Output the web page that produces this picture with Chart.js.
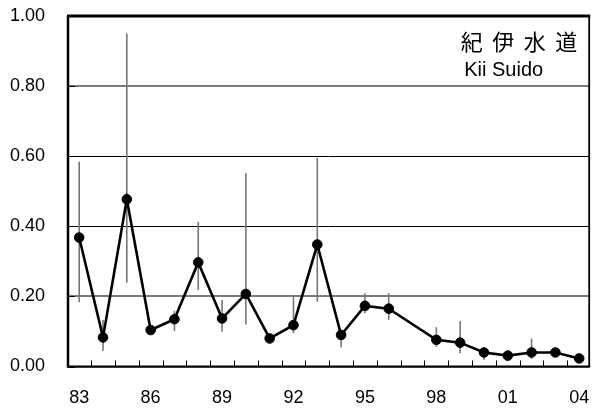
<!DOCTYPE html>
<html>
<head>
<meta charset="utf-8">
<title>紀伊水道</title>
<script src="https://cdn.jsdelivr.net/npm/chart.js@4.4.1/dist/chart.umd.min.js"></script>
<style>
  html, body { margin: 0; padding: 0; background: #fff; }
  #wrap { width: 595px; height: 411px; position: relative; }
</style>
</head>
<body>
<div id="wrap"><canvas id="chart"></canvas></div>
<script>
/* ============ DATA ============ */
const years = [1983, 1984, 1985, 1986, 1987, 1988, 1989, 1990, 1991, 1992, 1993,
  1994, 1995, 1996, 1997, 1998, 1999, 2000, 2001, 2002, 2003, 2004];
const means = [0.368, 0.083, 0.477, 0.104, 0.135, 0.297, 0.137, 0.207, 0.080, 0.118, 0.348,
  0.090, 0.173, 0.165, null, 0.076, 0.068, 0.040, 0.031, 0.040, 0.040, 0.023];
const lower = [0.183, 0.044, 0.239, 0.095, 0.101, 0.218, 0.099, 0.120, 0.072, 0.095, 0.185,
  0.055, 0.152, 0.133, null, 0.056, 0.038, 0.019, 0.020, 0.022, 0.030, 0.015];
const upper = [0.584, 0.133, 0.950, 0.115, 0.159, 0.413, 0.190, 0.551, 0.090, 0.204, 0.595,
  0.105, 0.209, 0.209, null, 0.112, 0.130, 0.055, 0.045, 0.080, 0.052, 0.032];
const tickYears = [1983, 1986, 1989, 1992, 1995, 1998, 2001, 2004];
const tickLabels = ['83', '86', '89', '92', '95', '98', '01', '04'];
const yTicks = [0, 0.2, 0.4, 0.6, 0.8, 1.0];

const titleJa = ['紀', '伊', '水', '道'];
const titleEn = 'Kii Suido';

/* ============ PLUGIN: error bars, frame, inner ticks, title ============ */
const decorations = {
  id: 'decorations',
  beforeDatasetsDraw(chart) {
    const { ctx, scales: { x, y } } = chart;
    ctx.save();
    ctx.strokeStyle = '#777';
    ctx.lineWidth = 1.6;
    years.forEach((yr, i) => {
      if (lower[i] == null || upper[i] == null) return;
      const px = x.getPixelForValue(yr);
      ctx.beginPath();
      ctx.moveTo(px, y.getPixelForValue(lower[i]));
      ctx.lineTo(px, y.getPixelForValue(upper[i]));
      ctx.stroke();
    });
    ctx.restore();
  },
  afterDraw(chart) {
    const { ctx, chartArea: a, scales: { x, y } } = chart;
    ctx.save();
    ctx.strokeStyle = '#000';

    // half-year tick marks along the bottom, pointing up
    ctx.lineWidth = 1;
    for (let v = years[0] + 0.5; v < years[years.length - 1]; v += 1) {
      const px = Math.round(x.getPixelForValue(v)) + 0.5;
      ctx.beginPath();
      ctx.moveTo(px, a.bottom);
      ctx.lineTo(px, a.bottom - 6);
      ctx.stroke();
    }
    // small inner ticks on the left axis
    yTicks.forEach((v) => {
      const py = Math.round(y.getPixelForValue(v)) + 0.5;
      ctx.beginPath();
      ctx.moveTo(a.left, py);
      ctx.lineTo(a.left + 7, py);
      ctx.stroke();
    });

    // frame
    const line = (w, x1, y1, x2, y2) => {
      ctx.lineWidth = w;
      ctx.beginPath();
      ctx.moveTo(x1, y1);
      ctx.lineTo(x2, y2);
      ctx.stroke();
    };
    line(3, a.left - 1, a.top, a.right + 1, a.top);
    line(2.5, a.left, a.top, a.left, a.bottom + 1);
    line(2, a.left - 1, a.bottom, a.right + 1, a.bottom);
    line(1.8, a.right, a.top, a.right, a.bottom);

    // title
    ctx.fillStyle = '#000';
    ctx.textAlign = 'center';
    ctx.textBaseline = 'middle';
    ctx.font = '22px "Noto Sans CJK JP", "Noto Sans CJK SC", sans-serif';
    titleJa.forEach((ch, i) => {
      ctx.fillText(ch, a.right - 23 - (titleJa.length - 1 - i) * 31.5, a.top + 25.5);
    });
    ctx.textAlign = 'left';
    ctx.textBaseline = 'alphabetic';
    ctx.font = '20px "Liberation Sans", Arial, sans-serif';
    ctx.fillText(titleEn, a.right - 125, a.top + 60);
    ctx.restore();
  },
};

/* ============ CHART ============ */
Chart.defaults.font.family = '"Liberation Sans", Arial, sans-serif';
Chart.defaults.color = '#000';

new Chart(document.getElementById('chart'), {
  type: 'line',
  data: {
    datasets: [{
      data: years.map((yr, i) => ({ x: yr, y: means[i] })),
      borderColor: '#000',
      backgroundColor: '#000',
      borderWidth: 2.6,
      pointRadius: 4.8,
      pointBorderWidth: 1,
      pointBackgroundColor: '#000',
      pointBorderColor: '#000',
      spanGaps: true,
      tension: 0,
    }],
  },
  options: {
    responsive: true,
    maintainAspectRatio: false,
    animation: false,
    layout: { padding: { top: 16, right: 2, left: 0, bottom: 0 } },
    plugins: { legend: { display: false }, tooltip: { enabled: false } },
    scales: {
      x: {
        type: 'linear',
        min: 1982.53,
        max: 2004.42,
        afterBuildTicks: (scale) => { scale.ticks = tickYears.map((v) => ({ value: v })); },
        afterFit: (scale) => {
          scale.height = 44.5;
          scale.paddingLeft = 0;
          scale.paddingRight = 0;
        },
        grid: { display: false, drawTicks: false },
        border: { display: false },
        ticks: {
          padding: 21,
          maxRotation: 0,
          autoSkip: false,
          font: { size: 18 },
          callback: (v) => tickLabels[tickYears.indexOf(v)],
        },
      },
      y: {
        min: 0,
        max: 1,
        afterBuildTicks: (scale) => { scale.ticks = yTicks.map((v) => ({ value: v })); },
        afterFit: (scale) => {
          scale.width = 68;
          scale.paddingTop = 0;
          scale.paddingBottom = 0;
        },
        grid: {
          drawTicks: false,
          color: (c) => (Math.abs(c.tick.value - 0.4) < 1e-6 || Math.abs(c.tick.value - 0.6) < 1e-6) ? '#000' : '#7a7a7a',
          lineWidth: (c) => (Math.abs(c.tick.value - 0.4) < 1e-6 || Math.abs(c.tick.value - 0.6) < 1e-6) ? 1 : 2,
        },
        border: { display: false },
        ticks: {
          padding: 23,
          font: { size: 18 },
          callback: (v) => v.toFixed(2),
        },
      },
    },
  },
  plugins: [decorations],
});
</script>
</body>
</html>
